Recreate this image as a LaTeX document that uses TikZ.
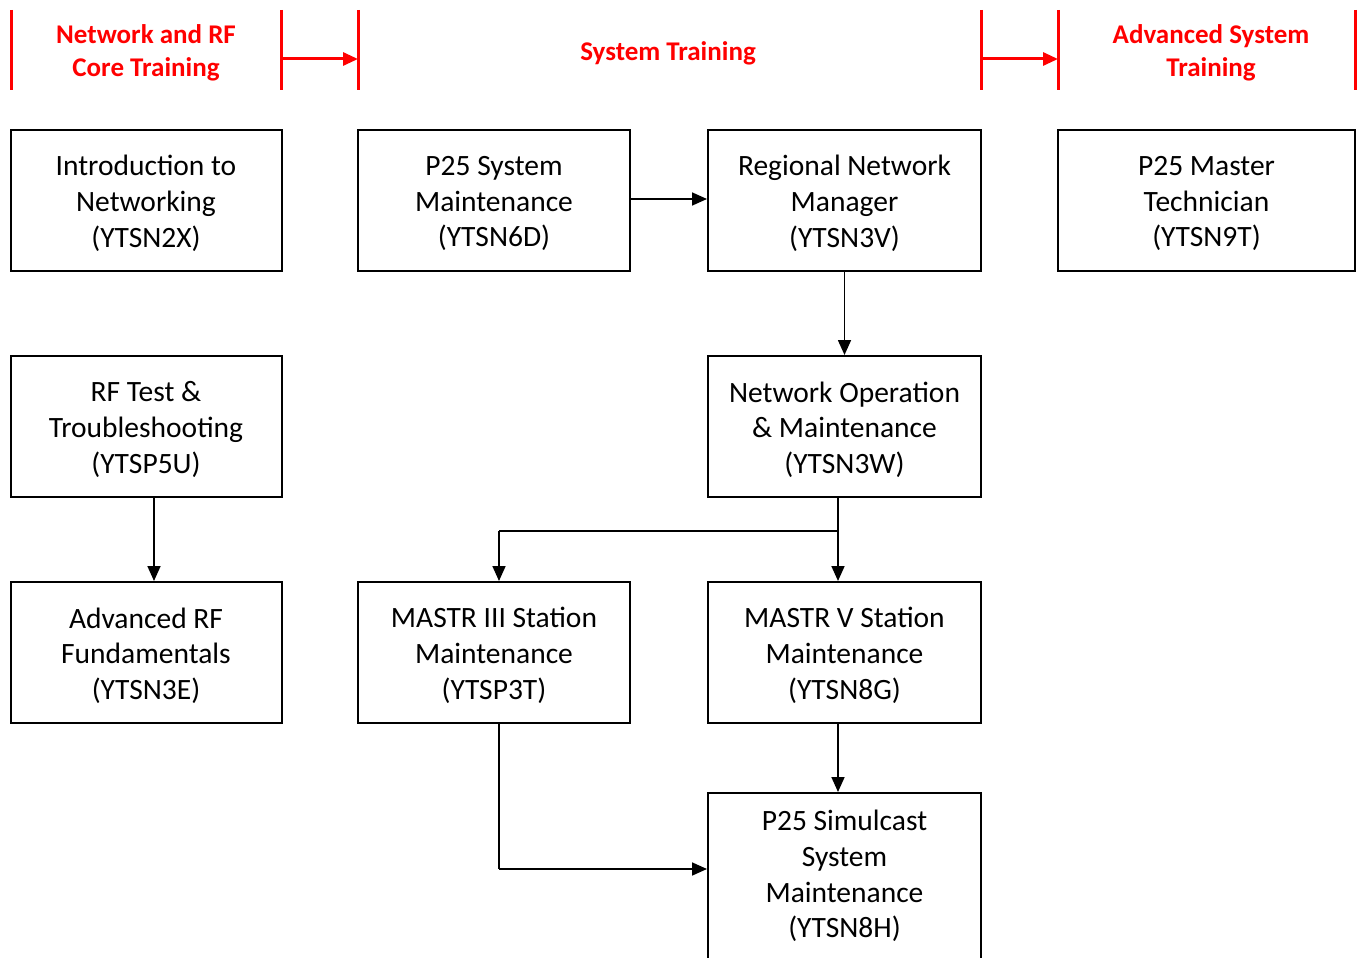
\documentclass[tikz,border=0pt]{standalone}
\usepackage{fontspec}
\setmainfont{Carlito}
\usetikzlibrary{arrows.meta}
\definecolor{hdrred}{RGB}{255,0,0}
\tikzset{
  course/.style={draw=black, line width=2pt, minimum width=271pt, minimum height=141pt,
    inner sep=0pt},
  coursetext/.style={align=center, inner sep=0pt, yshift=-3pt,
    font=\fontsize{29.5}{35.7}\selectfont},
  header/.style={align=center, inner sep=0pt, text=hdrred,
    font=\bfseries\fontsize{27}{33}\selectfont},
  divider/.style={draw=hdrred, line width=3pt},
  phase/.style={draw=hdrred, line width=3pt, -{Triangle[length=15pt,width=13pt]}},
  link/.style={draw=black, line width=1.7pt, -{Triangle[length=15pt,width=13pt]}},
  linkseg/.style={draw=black, line width=1.7pt}
}
\begin{document}
\begin{tikzpicture}[x=1pt,y=-1pt]
\useasboundingbox (0,0) rectangle (1357,958);

% phase dividers
\coordinate (d1t) at (11,10);    \coordinate (d1b) at (11,90);
\coordinate (d2t) at (281,10);   \coordinate (d2b) at (281,90);
\coordinate (d3t) at (358,10);   \coordinate (d3b) at (358,90);
\coordinate (d4t) at (981,10);   \coordinate (d4b) at (981,90);
\coordinate (d5t) at (1058,10);  \coordinate (d5b) at (1058,90);
\coordinate (d6t) at (1355,10);  \coordinate (d6b) at (1355,90);
\foreach \i in {1,...,6} { \draw[divider] (d\i t) -- (d\i b); }

\coordinate (a1s) at (281,59); \coordinate (a1e) at (358,59);
\coordinate (a2s) at (981,59); \coordinate (a2e) at (1058,59);
\draw[phase] (a1s) -- (a1e);
\draw[phase] (a2s) -- (a2e);

% phase titles
\node[header] (hcore) at (146,53) {Network and RF\\Core Training};
\node[header] (hsys)  at (668,53) {System Training};
\node[header] (hadv)  at (1211,53) {Advanced System\\Training};

% courses (box, with its title set in the middle)
\node[course, label={[coursetext]center:{Introduction to\\Networking\\(YTSN2X)}}] (intro) at (146,200.5) {};
\node[course, minimum width=272pt, label={[coursetext]center:{P25 System\\Maintenance\\(YTSN6D)}}] (p25sys) at (494,200.5) {};
\node[course, minimum width=273pt, label={[coursetext]center:{Regional Network\\Manager\\(YTSN3V)}}] (rnm) at (844.5,200.5) {};
\node[course, minimum width=297pt, label={[coursetext]center:{P25 Master\\Technician\\(YTSN9T)}}] (master) at (1206.5,200.5) {};

\node[course, label={[coursetext]center:{RF Test \&\\Troubleshooting\\(YTSP5U)}}] (rftest) at (146,426.5) {};
\node[course, minimum width=273pt, label={[coursetext]center:{Network Operation\\\& Maintenance\\(YTSN3W)}}] (netop) at (844.5,426.5) {};

\node[course, label={[coursetext]center:{Advanced RF\\Fundamentals\\(YTSN3E)}}] (advrf) at (146,652.5) {};
\node[course, minimum width=272pt, label={[coursetext]center:{MASTR III Station\\Maintenance\\(YTSP3T)}}] (m3) at (494,652.5) {};
\node[course, minimum width=273pt, label={[coursetext]center:{MASTR V Station\\Maintenance\\(YTSN8G)}}] (m5) at (844.5,652.5) {};

\node[course, minimum width=273pt, minimum height=200pt, anchor=north] (sim) at (844.5,792) {};
\node[coursetext] (simtxt) at (844.5,873) {P25 Simulcast\\System\\Maintenance\\(YTSN8H)};

% prerequisites
\draw[link] (p25sys.east |- 0,199) -- (rnm.west |- 0,199);
\draw[link] (rnm.south) -- (netop.north);
\draw[link] (rftest.south -| 154,0) -- (advrf.north -| 154,0);

\coordinate (split) at (838,531);
\coordinate (splitl) at (499,531);
\draw[linkseg] (netop.south -| split) -- (split);
\draw[link] (split) -- (m5.north -| split);
\draw[linkseg] (split) -- (splitl);
\draw[link] (splitl) -- (m3.north -| splitl);

\draw[link] (m5.south -| 838,0) -- (sim.north -| 838,0);
\coordinate (bend) at (499,869);
\draw[linkseg] (m3.south -| bend) -- (bend);
\draw[link] (bend) -- (sim.west |- bend);
\end{tikzpicture}
\end{document}
